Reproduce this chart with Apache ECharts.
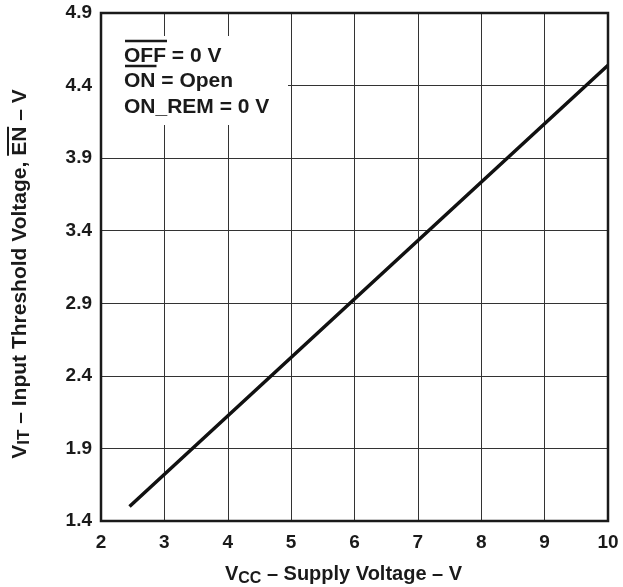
<!DOCTYPE html>
<html>
<head>
<meta charset="utf-8">
<script src="https://cdn.jsdelivr.net/npm/echarts@6/dist/echarts.min.js"></script>
<style>
  html, body { margin: 0; padding: 0; background: #fff; }
  #main { width: 623px; height: 587px; }
</style>
</head>
<body>
<div id="main"></div>
<script>
// supply voltage (V) and threshold voltage (V)
var vcc = [2.45, 6, 10];
var vit = [1.5, 2.93, 4.54];
var xTicks = [2, 3, 4, 5, 6, 7, 8, 9, 10];
var yTicks = [1.4, 1.9, 2.4, 2.9, 3.4, 3.9, 4.4, 4.9];
var notes = ['OFF = 0 V', 'ON = Open', 'ON_REM = 0 V'];

var font = "'Liberation Sans', Arial, Helvetica, sans-serif";
var ink = '#1a1a1a';

// text widths, for the overlines
var ctx = document.createElement('canvas').getContext('2d');
function tw(s, size) {
  ctx.font = 'bold ' + size + 'px ' + font;
  return ctx.measureText(s).width;
}

// y title pieces (rotated), EN gets an overline
var yT = { main: 21, sub: 17 };
var yPre = ' – Input Threshold Voltage, ';
var wBefore = tw('V', yT.main) + tw('IT', yT.sub) + tw(yPre, yT.main);
var wEN = tw('EN', yT.main);
var wAll = wBefore + wEN + tw(' – V', yT.main);

var chart = echarts.init(document.getElementById('main'));

var option = {
  animation: false,
  backgroundColor: '#fff',
  grid: { left: 101, right: 15, top: 13, bottom: 66, containLabel: false, outerBoundsMode: 'none' },
  xAxis: {
    type: 'value',
    min: xTicks[0],
    max: xTicks[xTicks.length - 1],
    interval: 1,
    axisLine: { show: false },
    axisTick: { show: false },
    splitLine: { show: true, lineStyle: { color: '#333', width: 1 } },
    axisLabel: { color: ink, fontFamily: font, fontWeight: 'bold', fontSize: 19, margin: 12 },
    name: '{v|V}{s|CC}{v| – Supply Voltage – V}',
    nameLocation: 'middle',
    nameGap: 41,
    nameTextStyle: {
      padding: [0, 22, 0, 0],
      rich: {
        v: { fontFamily: font, fontWeight: 'bold', fontSize: 20, color: ink },
        s: { fontFamily: font, fontWeight: 'bold', fontSize: 16, color: ink, padding: [9, 0, 0, 0] }
      }
    }
  },
  yAxis: {
    type: 'value',
    min: yTicks[0],
    max: yTicks[yTicks.length - 1],
    interval: 0.5,
    axisLine: { show: false },
    axisTick: { show: false },
    splitLine: { show: true, lineStyle: { color: '#333', width: 1 } },
    axisLabel: {
      color: ink, fontFamily: font, fontWeight: 'bold', fontSize: 19, margin: 9,
      formatter: function (v) { return v.toFixed(1); }
    }
  },
  graphic: [
    // y axis title, rotated, with overline on EN
    {
      type: 'group', x: 20, y: 274, rotation: Math.PI / 2, z: 70,
      children: [
        {
          type: 'text', x: -wAll / 2, y: 0,
          style: {
            text: '{v|V}{s|IT}{v|' + yPre + 'EN – V}',
            align: 'left', verticalAlign: 'middle',
            rich: {
              v: { fontFamily: font, fontWeight: 'bold', fontSize: yT.main, fill: ink },
              s: { fontFamily: font, fontWeight: 'bold', fontSize: yT.sub, fill: ink, padding: [9, 0, 0, 0] }
            }
          }
        },
        {
          type: 'line',
          shape: { x1: -wAll / 2 + wBefore, y1: -12, x2: -wAll / 2 + wBefore + wEN, y2: -12 },
          style: { stroke: ink, lineWidth: 2 }
        }
      ]
    },
    // note box
    { type: 'rect', z: 50, shape: { x: 102, y: 36, width: 186, height: 89 }, style: { fill: '#fff' } },
    { type: 'text', z: 51, x: 124, y: 46, style: { text: notes[0], font: 'bold 21px ' + font, fill: ink } },
    { type: 'text', z: 51, x: 124, y: 71, style: { text: notes[1], font: 'bold 21px ' + font, fill: ink } },
    { type: 'text', z: 51, x: 124, y: 97, style: { text: notes[2], font: 'bold 21px ' + font, fill: ink } },
    { type: 'line', z: 51, shape: { x1: 125, y1: 41, x2: 125 + tw('OFF', 21), y2: 41 }, style: { stroke: ink, lineWidth: 2.5 } },
    { type: 'line', z: 51, shape: { x1: 125, y1: 66, x2: 125 + tw('ON', 21), y2: 66 }, style: { stroke: ink, lineWidth: 2.5 } },
    // frame
    { type: 'rect', z: 60, shape: { x: 101, y: 13, width: 507, height: 508 }, style: { fill: 'none', stroke: ink, lineWidth: 2.5 } }
  ],
  series: [{
    type: 'line',
    data: vcc.map(function (x, i) { return [x, vit[i]]; }),
    showSymbol: false,
    lineStyle: { color: '#111', width: 3.5 },
    z: 10
  }]
};
chart.setOption(option);
</script>
</body>
</html>
